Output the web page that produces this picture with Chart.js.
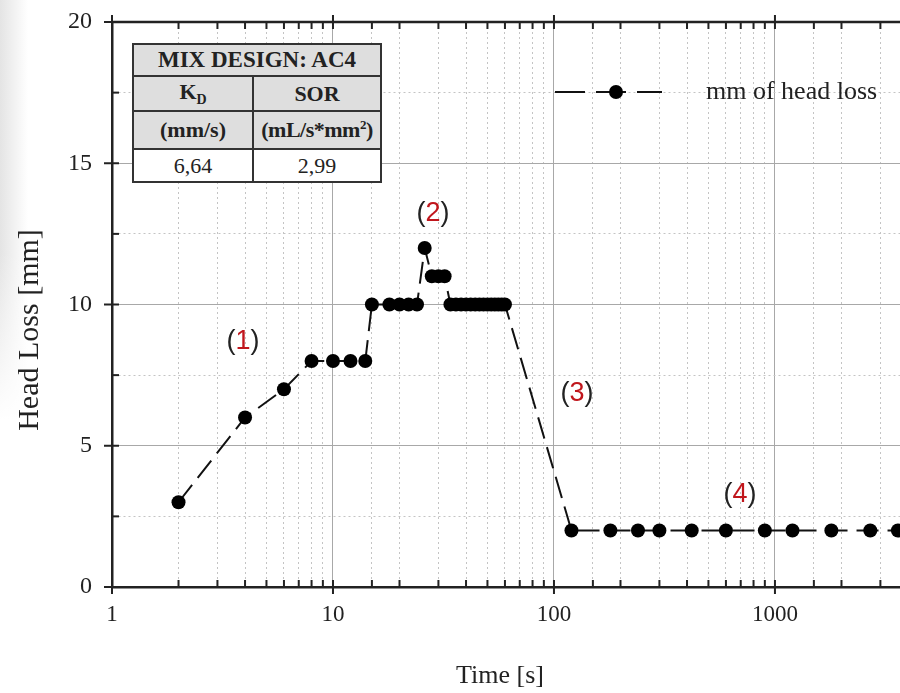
<!DOCTYPE html>
<html>
<head>
<meta charset="utf-8">
<script src="https://cdn.jsdelivr.net/npm/chart.js@4/dist/chart.umd.min.js"></script>
<style>
  html, body { margin: 0; padding: 0; background: #fff; }
  #wrap { position: relative; width: 900px; height: 693px; overflow: hidden; }
  #shade { position: absolute; left: 0; top: 0; width: 28px; height: 420px;
    background: linear-gradient(to right, #e4e4e4, rgba(255,255,255,0)); }
  #shade2 { position: absolute; left: 0; top: 0; width: 28px; height: 420px;
    background: linear-gradient(to bottom, rgba(255,255,255,0) 60%, #fff); }
  canvas { position: absolute; left: 0; top: 0; }
  #mix { position: absolute; left: 132px; top: 43px; width: 250px; height: 140px;
    border-collapse: collapse; font-family: "Liberation Serif", serif; font-size: 22px;
    color: #222; background: #fff; }
  #mix td { border: 2px solid #333; text-align: center; padding: 0; white-space: nowrap; }
  #mix .hd { background: #dedede; font-weight: bold; }
  #mix .big { font-size: 23px; }
  #mix sub { font-size: 14px; }
  #mix sup { font-size: 13px; }
  .note { position: absolute; font-family: "Liberation Sans", Arial, sans-serif; font-size: 27px;
    color: #222; transform: translate(-50%, -50%); white-space: nowrap; }
  .note b { color: #c0161c; font-weight: normal; }
</style>
</head>
<body>
<div id="wrap">
  <div id="shade"></div><div id="shade2"></div>
  <canvas id="chart" width="900" height="693"></canvas>
  <table id="mix">
    <tr style="height:32px"><td class="hd big" colspan="2">MIX DESIGN: AC4</td></tr>
    <tr style="height:35px"><td class="hd" style="width:118px">K<sub>D</sub></td><td class="hd">SOR</td></tr>
    <tr style="height:38px"><td class="hd">(mm/s)</td><td class="hd" style="letter-spacing:-0.5px">(mL/s*mm<sup>2</sup>)</td></tr>
    <tr><td>6,64</td><td>2,99</td></tr>
  </table>
  <div class="note" style="left:243px; top:340px">(<b>1</b>)</div>
  <div class="note" style="left:433px; top:212px">(<b>2</b>)</div>
  <div class="note" style="left:577px; top:392px">(<b>3</b>)</div>
  <div class="note" style="left:740px; top:493px">(<b>4</b>)</div>
</div>
<script>
const timeSec = [2, 4, 6, 8, 10, 12, 14, 15, 18, 20, 22, 24, 26, 28, 30, 32,
  34, 36, 38, 40, 42, 44, 46, 48, 50, 52, 54, 56, 58, 60,
  120, 180, 240, 300, 420, 600, 900, 1200, 1800, 2700, 3600];
const headLossMm = [3, 6, 7, 8, 8, 8, 8, 10, 10, 10, 10, 10, 12, 11, 11, 11,
  10, 10, 10, 10, 10, 10, 10, 10, 10, 10, 10, 10, 10, 10,
  2, 2, 2, 2, 2, 2, 2, 2, 2, 2, 2];
const xLabels = [1, 10, 100, 1000];
const yLabels = [0, 5, 10, 15, 20];

const SERIF = '"Liberation Serif", "Times New Roman", serif';
const INK = "#222";
const LINE_DASH = [22, 9];

function isDecade(v) {
  const l = Math.log10(v);
  return Math.abs(l - Math.round(l)) < 1e-9;
}

function noScalePadding(s) {
  s.paddingTop = 0;
  s.paddingBottom = 0;
  s.paddingLeft = 0;
  s.paddingRight = 0;
}

const framePlugin = {
  id: "frame",
  afterDraw(chart) {
    const { ctx, chartArea: a, scales: { x, y } } = chart;
    ctx.save();
    ctx.strokeStyle = INK;
    ctx.lineWidth = 2.5;
    ctx.beginPath();
    ctx.moveTo(a.left, a.top);
    ctx.lineTo(a.right, a.top);
    ctx.stroke();

    // tick marks
    ctx.lineWidth = 2;
    for (const t of x.ticks) {
      if (t.value > x.max - 1) continue;
      const px = x.getPixelForValue(t.value);
      const major = isDecade(t.value);
      ctx.beginPath();
      ctx.moveTo(px, a.bottom + (major ? 7 : 0));
      ctx.lineTo(px, a.bottom - 7);
      ctx.moveTo(px, a.top - (major ? 7 : 0));
      ctx.lineTo(px, a.top + 7);
      ctx.stroke();
    }
    for (const t of y.ticks) {
      const py = y.getPixelForValue(t.value);
      const major = t.value % 5 === 0;
      ctx.beginPath();
      ctx.moveTo(a.left - (major ? 8 : 0), py);
      ctx.lineTo(a.left + 7, py);
      ctx.stroke();
    }

    // axis titles
    ctx.fillStyle = INK;
    ctx.font = "26px " + SERIF;
    ctx.textAlign = "center";
    ctx.textBaseline = "middle";
    ctx.fillText("Time [s]", 500, 676);
    ctx.translate(30, 330);
    ctx.rotate(-Math.PI / 2);
    ctx.font = "30px " + SERIF;
    ctx.fillText("Head Loss [mm]", 0, 0);
    ctx.restore();

    // legend
    const ds = chart.data.datasets[0];
    const ly = 92;
    ctx.save();
    ctx.strokeStyle = ds.borderColor;
    ctx.lineWidth = ds.borderWidth;
    ctx.setLineDash([30, 11]);
    ctx.beginPath();
    ctx.moveTo(555, ly);
    ctx.lineTo(662, ly);
    ctx.stroke();
    ctx.setLineDash([]);
    ctx.fillStyle = ds.pointBackgroundColor;
    ctx.beginPath();
    ctx.arc(616, ly, ds.pointRadius, 0, Math.PI * 2);
    ctx.fill();
    ctx.fillStyle = INK;
    ctx.font = "26px " + SERIF;
    ctx.textAlign = "left";
    ctx.textBaseline = "middle";
    ctx.fillText(ds.label, 706, ly);
    ctx.restore();
  }
};

new Chart(document.getElementById("chart"), {
  type: "scatter",
  data: {
    datasets: [{
      label: "mm of head loss",
      data: timeSec.map((t, i) => ({ x: t, y: headLossMm[i] })),
      showLine: true,
      borderColor: "#111",
      borderWidth: 2,
      borderDash: LINE_DASH,
      pointRadius: 7,
      pointHoverRadius: 7,
      pointBackgroundColor: "#000",
      pointBorderWidth: 0,
    }],
  },
  options: {
    responsive: false,
    animation: false,
    layout: { autoPadding: false, padding: { top: 22, left: 0, right: 0, bottom: 0 } },
    plugins: { legend: { display: false }, tooltip: { enabled: false } },
    scales: {
      x: {
        type: "logarithmic",
        min: 1,
        max: 3680,
        afterFit: (s) => { s.height = 106; noScalePadding(s); },
        grid: {
          drawTicks: false,
          lineWidth: 1,
          color: (c) => {
            if (!c.tick) return "#aaa";
            const v = c.tick.value;
            if (v <= 1 || v >= 3679) return "rgba(0,0,0,0)";
            return isDecade(v) ? "#a8a8a8" : "#c4c4c4";
          },
        },
        border: {
          display: true,
          color: INK,
          width: 2.5,
          dash: (c) => (c.tick && !isDecade(c.tick.value) ? [2, 3] : []),
        },
        ticks: {
          autoSkip: false,
          maxRotation: 0,
          padding: 14,
          color: INK,
          font: { family: SERIF, size: 23 },
          callback: (v) => (xLabels.includes(v) ? String(v) : ""),
        },
      },
      y: {
        min: 0,
        max: 20,
        afterFit: (s) => { s.width = 112; noScalePadding(s); },
        grid: {
          drawTicks: false,
          lineWidth: 1,
          color: (c) => {
            if (!c.tick) return "#aaa";
            const v = c.tick.value;
            if (v === 0 || v === 20) return "rgba(0,0,0,0)";
            return v % 5 === 0 ? "#a8a8a8" : "#c4c4c4";
          },
        },
        border: {
          display: true,
          color: INK,
          width: 2.5,
          dash: (c) => (c.tick && c.tick.value % 5 !== 0 ? [2, 3] : []),
        },
        ticks: {
          stepSize: 2.5,
          padding: 20,
          color: INK,
          font: { family: SERIF, size: 24 },
          callback: (v) => (yLabels.includes(v) ? String(v) : ""),
        },
      },
    },
  },
  plugins: [framePlugin],
});
</script>
</body>
</html>
